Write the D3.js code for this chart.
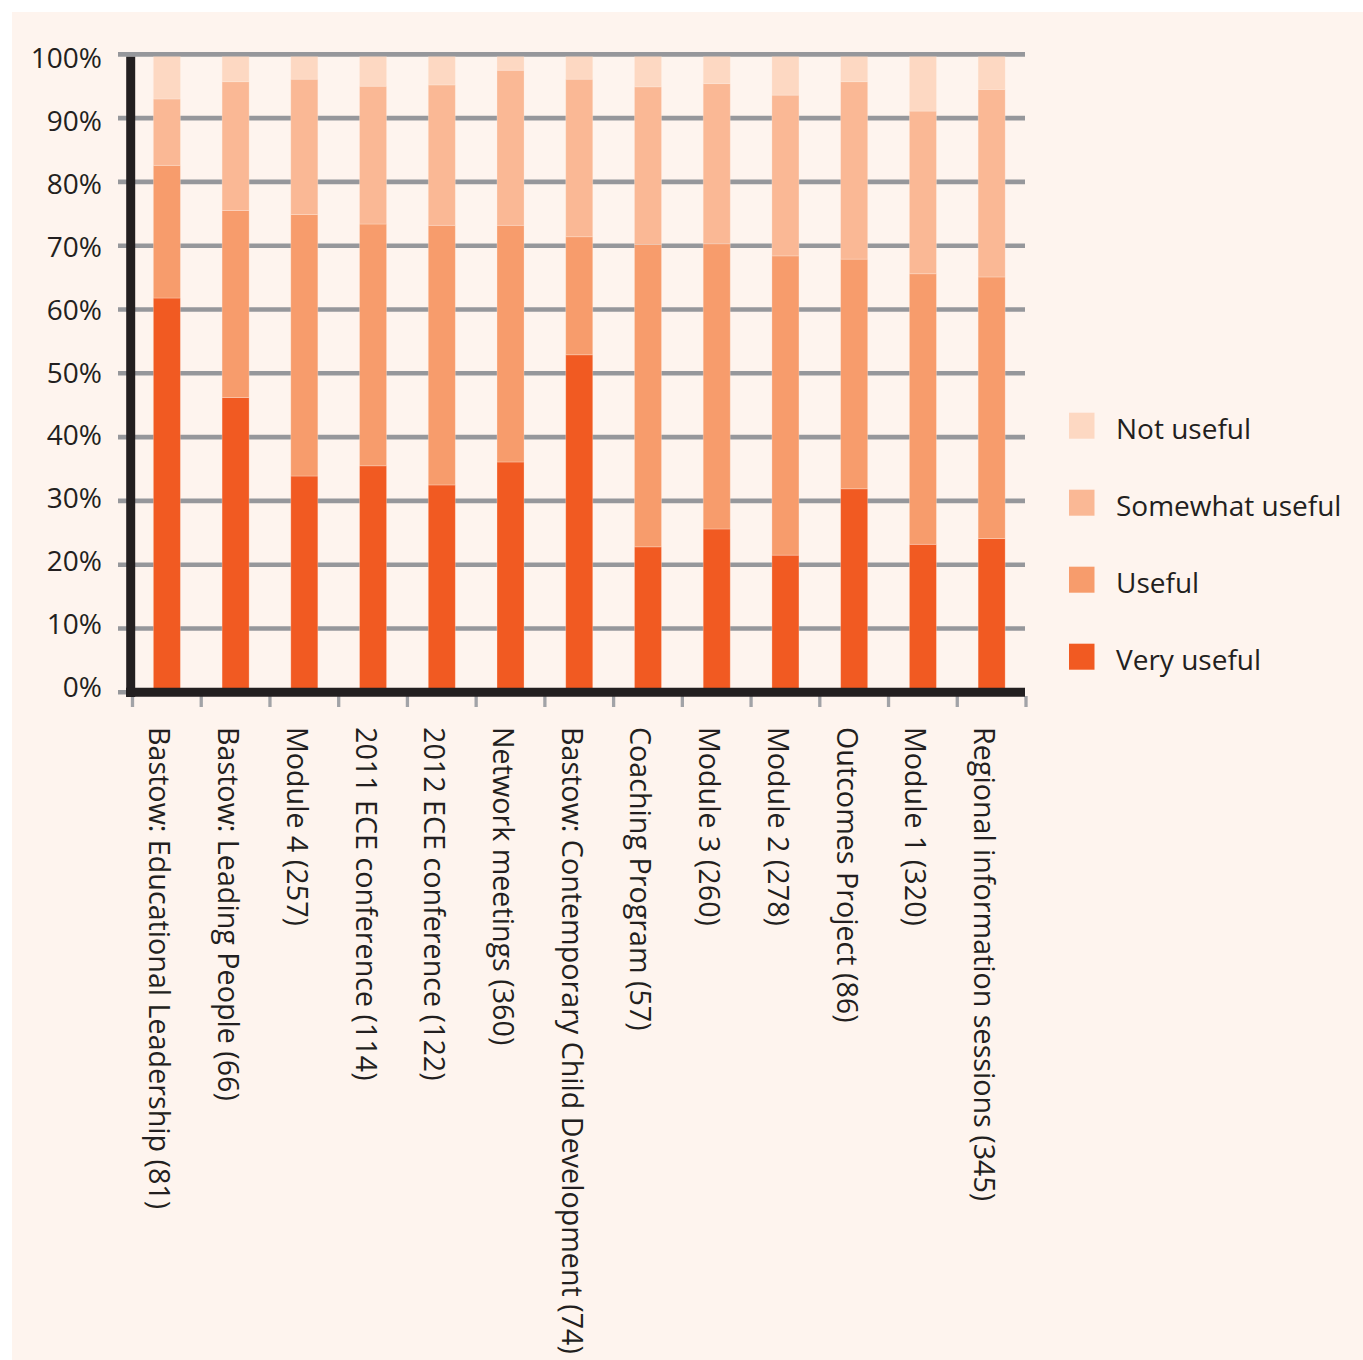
<!DOCTYPE html>
<html>
<head>
<meta charset="utf-8">
<script src="https://cdn.jsdelivr.net/npm/d3@7"></script>
<style>
  html, body { margin: 0; padding: 0; background: #ffffff; }
  svg { display: block; }
  text { font-family: "Open Sans", "Noto Sans", sans-serif; fill: #231f20; }
</style>
</head>
<body>
<svg id="chart" width="1363" height="1360"></svg>
<script>
// ---- Data ----
const categories = [
  "Bastow: Educational Leadership (81)",
  "Bastow: Leading People (66)",
  "Module 4 (257)",
  "2011 ECE conference (114)",
  "2012 ECE conference (122)",
  "Network meetings (360)",
  "Bastow: Contemporary Child Development (74)",
  "Coaching Program (57)",
  "Module 3 (260)",
  "Module 2 (278)",
  "Outcomes Project (86)",
  "Module 1 (320)",
  "Regional information sessions (345)"
];
const veryUseful     = [61.8, 46.2, 33.9, 35.5, 32.5, 36.1, 52.9, 22.8, 25.6, 21.5, 31.9, 23.2, 24.1];
const useful         = [20.8, 29.3, 41.0, 37.9, 40.7, 37.1, 18.5, 47.4, 44.7, 46.9, 36.0, 42.4, 41.0];
const somewhatUseful = [10.4, 20.2, 21.2, 21.6, 22.0, 24.3, 24.7, 24.7, 25.1, 25.2, 27.8, 25.5, 29.4];
const notUseful      = [ 7.0,  4.3,  3.9,  5.0,  4.8,  2.5,  3.9,  5.1,  4.6,  6.4,  4.3,  8.9,  5.5];
const seriesNames = ["Very useful", "Useful", "Somewhat useful", "Not useful"];
const seriesColors = ["#f15a22", "#f79c6c", "#fab895", "#fdd8c2"];
const yTicks = [0, 10, 20, 30, 40, 50, 60, 70, 80, 90, 100];

// ---- Build table ----
const seriesValues = [veryUseful, useful, somewhatUseful, notUseful];
const table = categories.map((c, i) => {
  const row = { category: c };
  seriesNames.forEach((s, j) => row[s] = seriesValues[j][i]);
  return row;
});
const stacked = d3.stack().keys(seriesNames)(table);

const svg = d3.select("#chart");

// panel background
svg.append("rect").attr("x", 12).attr("y", 12).attr("width", 1363 - 12).attr("height", 1360 - 12)
  .attr("fill", "#fef4ee");

const x = d3.scaleBand().domain(categories).range([132.5, 1026]).paddingInner(0.607).paddingOuter(0.3035);
const y = d3.scaleLinear().domain([0, 100]).range([692.3, 54.3]);
// tick labels sit on their own, slightly tighter, pitch
const yLabel = d3.scaleLinear().domain([0, 100]).range([686.7, 58.3]);
const color = d3.scaleOrdinal().domain(seriesNames).range(seriesColors);

const gridLeft = 118, gridRight = 1025;

// gridlines
svg.append("g").selectAll("line").data(yTicks).join("line")
  .attr("x1", gridLeft).attr("x2", gridRight)
  .attr("y1", d => y(d)).attr("y2", d => y(d))
  .attr("stroke", "#96979b").attr("stroke-width", 4.6);

// y labels
svg.append("g").selectAll("text").data(yTicks).join("text")
  .attr("x", 102).attr("y", d => yLabel(d) + 10)
  .attr("text-anchor", "end")
  .attr("font-size", 28)
  .text(d => d + "%");

// bars
svg.append("g").selectAll("g").data(stacked).join("g")
  .attr("fill", d => color(d.key))
  .selectAll("rect").data(d => d).join("rect")
  .attr("x", d => x(d.data.category))
  .attr("width", x.bandwidth())
  .attr("y", d => y(d[1]))
  .attr("height", d => y(d[0]) - y(d[1]))
  .attr("stroke", "rgba(255,240,230,0.35)")
  .attr("stroke-width", 0.8);

// top gridline over the bars
svg.append("line")
  .attr("x1", gridLeft).attr("x2", gridRight)
  .attr("y1", y(100)).attr("y2", y(100))
  .attr("stroke", "#96979b").attr("stroke-width", 4.6);

// x tick marks at band boundaries
const step = x.step();
const boundaries = d3.range(categories.length + 1).map(i => x.range()[0] + i * step);
svg.append("g").selectAll("line").data(boundaries).join("line")
  .attr("x1", d => d).attr("x2", d => d)
  .attr("y1", 696).attr("y2", 707)
  .attr("stroke", "#a2a3a7").attr("stroke-width", 3.3);

// axes lines (black)
svg.append("line").attr("x1", 130.7).attr("x2", 130.7).attr("y1", 56.7).attr("y2", 697)
  .attr("stroke", "#231f20").attr("stroke-width", 9);
svg.append("line").attr("x1", 126).attr("x2", 1025).attr("y1", y(0)).attr("y2", y(0))
  .attr("stroke", "#231f20").attr("stroke-width", 9);

// x labels, rotated 90deg clockwise
svg.append("g").selectAll("text").data(categories).join("text")
  .attr("transform", d => `translate(${x(d) + x.bandwidth() / 2 - 17.5},727) rotate(90)`)
  .attr("text-anchor", "start")
  .attr("font-size", 28.7)
  .text(d => d);

// legend
const legendOrder = ["Not useful", "Somewhat useful", "Useful", "Very useful"];
const lg = svg.append("g").selectAll("g").data(legendOrder).join("g")
  .attr("transform", (d, i) => `translate(1069,${412.7 + i * 77})`);
lg.append("rect").attr("width", 25.5).attr("height", 26).attr("fill", d => color(d));
lg.append("text").attr("x", 47).attr("y", 26.5).attr("font-size", 28).text(d => d);
</script>
</body>
</html>
